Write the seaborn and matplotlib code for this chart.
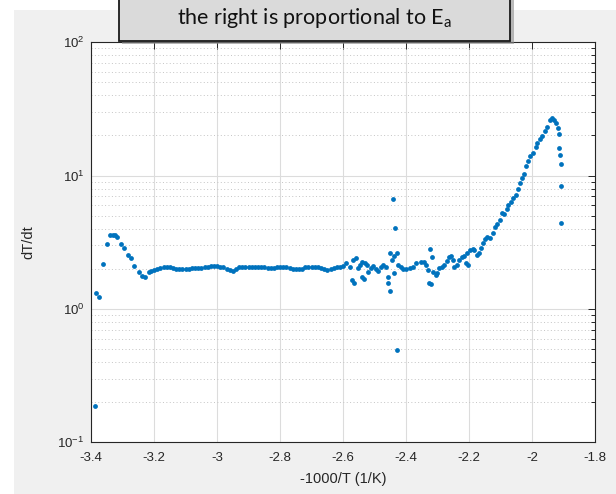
import numpy as np
import pandas as pd
import seaborn as sns
import matplotlib.pyplot as plt
from matplotlib.patches import Rectangle
from matplotlib.ticker import LogLocator, FixedLocator, FixedFormatter, NullFormatter

# data (x = -1000/T, y = dT/dt)
x_left = [-3.388, -3.386, -3.374, -3.362, -3.351, -3.340, -3.332, -3.325, -3.317,
          -3.305, -3.295, -3.284, -3.274, -3.263, -3.249, -3.239, -3.228, -3.217]
y_left = [0.187, 1.31, 1.23, 2.16, 3.05, 3.59, 3.59, 3.57, 3.48,
          3.07, 2.87, 2.54, 2.40, 2.10, 1.88, 1.78, 1.73, 1.90]

x_flat = [-3.21, -3.20, -3.19, -3.18, -3.17, -3.16, -3.15, -3.14, -3.13, -3.12,
          -3.11, -3.10, -3.09, -3.08, -3.07, -3.06, -3.05, -3.04, -3.03, -3.02,
          -3.01, -3.00, -2.99, -2.98, -2.97, -2.96, -2.95, -2.94, -2.93, -2.92,
          -2.91, -2.90, -2.89, -2.88, -2.87, -2.86, -2.85, -2.84, -2.83, -2.82,
          -2.81, -2.80, -2.79, -2.78, -2.77, -2.76, -2.75, -2.74, -2.73, -2.72,
          -2.71, -2.70, -2.69, -2.68, -2.67, -2.66, -2.65, -2.64, -2.63, -2.62,
          -2.61, -2.60]
y_flat = [1.93, 1.97, 2.00, 2.03, 2.06, 2.08, 2.06, 2.03, 2.01, 2.00,
          2.00, 2.01, 2.00, 2.02, 2.02, 2.03, 2.04, 2.05, 2.07, 2.09,
          2.10, 2.10, 2.08, 2.05, 1.98, 1.95, 1.94, 2.00, 2.05, 2.07,
          2.08, 2.08, 2.07, 2.06, 2.07, 2.06, 2.05, 2.03, 2.02, 2.03,
          2.05, 2.07, 2.08, 2.06, 2.03, 2.01, 1.99, 1.98, 2.01, 2.05,
          2.07, 2.08, 2.08, 2.05, 2.02, 1.98, 1.96, 2.00, 2.04, 2.07,
          2.08, 2.10]

x_noisy = [-2.592, -2.578, -2.573, -2.566, -2.568, -2.559, -2.552, -2.546, -2.539, -2.541,
           -2.534, -2.531, -2.525, -2.520, -2.513, -2.504, -2.496, -2.488, -2.481, -2.472,
           -2.464, -2.457, -2.459, -2.451, -2.451, -2.446, -2.441, -2.435, -2.438, -2.430,
           -2.438, -2.430, -2.425, -2.417, -2.411, -2.401, -2.388, -2.377, -2.367, -2.354,
           -2.343, -2.337, -2.329, -2.326, -2.321, -2.324, -2.319, -2.313, -2.306, -2.301,
           -2.294, -2.287, -2.279, -2.271, -2.264, -2.258, -2.252, -2.248, -2.239, -2.231,
           -2.223, -2.216, -2.209, -2.204, -2.207]
y_noisy = [2.22, 2.08, 1.65, 1.56, 2.33, 2.42, 2.02, 2.14, 2.26, 1.75,
           1.67, 2.20, 2.14, 1.90, 2.02, 2.10, 1.98, 1.94, 2.08, 2.14,
           2.08, 1.75, 1.58, 1.36, 2.61, 2.33, 6.64, 4.03, 2.50, 2.61,
           1.87, 0.49, 2.14, 2.08, 1.98, 1.98, 2.02, 2.08, 2.20, 2.26,
           2.26, 2.14, 1.96, 1.58, 1.53, 2.80, 2.44, 1.90, 1.80, 1.85,
           2.02, 2.08, 2.14, 2.30, 2.44, 2.50, 2.33, 2.05, 2.14, 2.33,
           2.44, 2.50, 2.20, 2.14, 2.61]

x_rise = [-2.197, -2.189, -2.185, -2.176, -2.170, -2.163, -2.157, -2.150, -2.142, -2.134,
          -2.125, -2.118, -2.110, -2.102, -2.097, -2.089, -2.081, -2.076, -2.068, -2.060,
          -2.051, -2.044, -2.039, -2.033, -2.026, -2.020, -2.012, -2.005, -1.996, -1.989,
          -1.983, -1.975, -1.967, -1.959, -1.952, -1.943, -1.938, -1.930, -1.924, -1.917,
          -1.914, -1.913, -1.911, -1.909, -1.907, -1.907]
y_rise = [2.77, 2.80, 2.77, 2.54, 2.61, 2.85, 3.11, 3.33, 3.48, 3.39,
          3.73, 4.10, 4.34, 4.65, 5.27, 5.14, 5.59, 6.02, 6.37, 6.76,
          7.16, 7.89, 8.85, 9.55, 10.3, 11.8, 12.9, 14.0, 14.7, 16.5,
          17.5, 18.7, 19.8, 21.7, 23.3, 26.1, 26.9, 26.1, 24.7, 22.6,
          20.4, 16.0, 14.3, 12.2, 8.36, 4.44]

x_ticks = [-3.4, -3.2, -3.0, -2.8, -2.6, -2.4, -2.2, -2.0, -1.8]
x_tick_labels = ['-3.4', '-3.2', '-3', '-2.8', '-2.6', '-2.4', '-2.2', '-2', '-1.8']

df = pd.DataFrame({'x': x_left + x_flat + x_noisy + x_rise,
                   'y': y_left + y_flat + y_noisy + y_rise})

sns.set_style('white')
plt.rcParams['font.family'] = ['Liberation Sans', 'DejaVu Sans']

fig = plt.figure(figsize=(6.16, 4.94), dpi=100, facecolor='white')
# matlab style grey window behind the axes
fig.patches.append(Rectangle((0.022, 0), 0.98, 0.98, transform=fig.transFigure,
                             facecolor='#f0f0f0', edgecolor='none', zorder=-10))
ax = fig.add_axes([0.148, 0.1045, 0.818, 0.810])
ax.set_facecolor('white')

sns.scatterplot(data=df, x='x', y='y', ax=ax, color='#0072BD', s=12,
                linewidth=0, zorder=3)

ax.set_yscale('log')
ax.set_xlim(-3.4, -1.8)
ax.set_ylim(0.1, 100)
ax.xaxis.set_major_locator(FixedLocator(x_ticks))
ax.xaxis.set_major_formatter(FixedFormatter(x_tick_labels))
ax.yaxis.set_major_locator(LogLocator(base=10, numticks=10))
ax.yaxis.set_minor_locator(LogLocator(base=10, subs=np.arange(2, 10), numticks=10))
ax.yaxis.set_minor_formatter(NullFormatter())

ax.grid(True, which='major', color='#dcdcdc', linewidth=0.8, linestyle='-')
ax.grid(True, which='minor', axis='y', color='#c4c4c4', linewidth=0.7, linestyle=(0, (1, 2.5)))
ax.set_axisbelow(True)

for sp in ax.spines.values():
    sp.set_color('#262626')
    sp.set_linewidth(0.8)
ax.tick_params(which='both', direction='in', top=True, right=True, color='#262626',
               labelcolor='#262626', labelsize=9.5, width=0.7)
ax.tick_params(which='major', length=5)
ax.tick_params(which='minor', length=3)
ax.tick_params(axis='x', which='major', pad=7)
ax.tick_params(axis='y', which='major', pad=5)

ax.set_xlabel('-1000/T (1/K)', fontsize=10.5, color='#262626', labelpad=6)
ax.set_ylabel('dT/dt', fontsize=10.5, color='#262626', labelpad=16)

# annotation box cut off at the top edge
fig.patches.append(Rectangle((122 / 616, 1 - 44 / 494), 392 / 616, 60 / 494,
                             transform=fig.transFigure, facecolor='#8c8c8c',
                             edgecolor='none', alpha=0.6, zorder=5))
fig.patches.append(Rectangle((119 / 616, 1 - 41 / 494), 391 / 616, 60 / 494,
                             transform=fig.transFigure, facecolor='#dadada',
                             edgecolor='#1a1a1a', linewidth=1.3, zorder=6))
fig.text(314.5 / 616, 1 - 18 / 494, 'the right is proportional to E$_\\mathdefault{a}$',
         ha='center', va='center', fontsize=15.5, family=['Lato', 'DejaVu Sans'],
         color='#111111', zorder=7)

fig.savefig('out.png', dpi=100)
